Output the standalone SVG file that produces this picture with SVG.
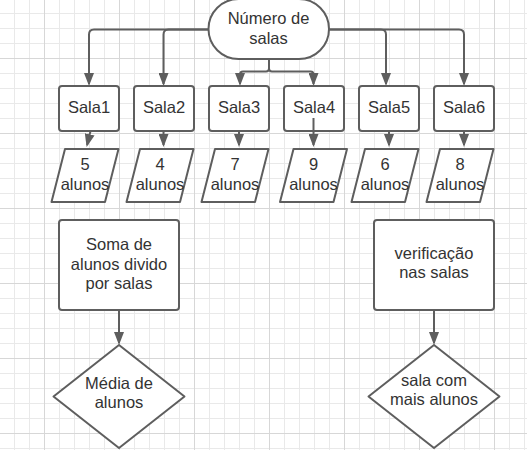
<svg xmlns="http://www.w3.org/2000/svg" width="527" height="450" viewBox="0 0 527 450">
<style>
.shape{fill:#ffffff;stroke:#5e5e5e;stroke-width:2;stroke-linejoin:round}
.lbl{font-family:"Liberation Sans",Arial,sans-serif;font-size:16.5px;fill:#333333;text-anchor:middle}
.conn{fill:none;stroke:#5e5e5e;stroke-width:2}
</style>
<defs>
<pattern id="grid" patternUnits="userSpaceOnUse" x="14" y="13" width="75" height="75">
<path d="M0.5,0V75M15.5,0V75M45.5,0V75M60.5,0V75M0,0.5H75M0,15.5H75M0,30.5H75M0,60.5H75" stroke="#e9e9e9" stroke-width="1" fill="none"/>
<path d="M30.5,0V75M0,45.5H75" stroke="#d7d7d7" stroke-width="1" fill="none"/>
</pattern>
<marker id="arr" viewBox="0 0 13 10" refX="11" refY="5" markerWidth="13" markerHeight="10" markerUnits="userSpaceOnUse" orient="auto">
<path d="M0,0L13,5L0,10z" fill="#5e5e5e"/>
</marker>
</defs>
<rect width="527" height="450" fill="#ffffff"/>
<rect width="527" height="450" fill="url(#grid)"/>

<g id="numero-salas">
<rect class="shape" x="208.5" y="-1" width="120.5" height="60" rx="30"/>
<text class="lbl" x="268.5" y="24">Número de</text>
<text class="lbl" x="268.5" y="43.5">salas</text>
</g>

<g id="sala1"><rect class="shape" x="59" y="86" width="60" height="45" rx="3"/><text class="lbl" x="89" y="113">Sala1</text></g>
<g id="sala2"><rect class="shape" x="134" y="86" width="60" height="45" rx="3"/><text class="lbl" x="164" y="113">Sala2</text></g>
<g id="sala3"><rect class="shape" x="209" y="86" width="60" height="45" rx="3"/><text class="lbl" x="239" y="113">Sala3</text></g>
<g id="sala4"><rect class="shape" x="284" y="86" width="60" height="45" rx="3"/><text class="lbl" x="314" y="113">Sala4</text></g>
<g id="sala5"><rect class="shape" x="359" y="86" width="60" height="45" rx="3"/><text class="lbl" x="389" y="113">Sala5</text></g>
<g id="sala6"><rect class="shape" x="434" y="86" width="60" height="45" rx="3"/><text class="lbl" x="464" y="113">Sala6</text></g>

<g id="dados1"><path class="shape" d="M65,149H118.5L105,202H51.5Z"/><text class="lbl" x="85" y="169.5">5</text><text class="lbl" x="85" y="189.5">alunos</text></g>
<g id="dados2"><path class="shape" d="M140,149H193.5L180,202H126.5Z"/><text class="lbl" x="160" y="169.5">4</text><text class="lbl" x="160" y="189.5">alunos</text></g>
<g id="dados3"><path class="shape" d="M215,149H268.5L255,202H201.5Z"/><text class="lbl" x="235" y="169.5">7</text><text class="lbl" x="235" y="189.5">alunos</text></g>
<g id="dados4"><path class="shape" d="M293.5,149H347L333.5,202H280Z"/><text class="lbl" x="313.5" y="169.5">9</text><text class="lbl" x="313.5" y="189.5">alunos</text></g>
<g id="dados5"><path class="shape" d="M365,149H418.5L405,202H351.5Z"/><text class="lbl" x="385" y="169.5">6</text><text class="lbl" x="385" y="189.5">alunos</text></g>
<g id="dados6"><path class="shape" d="M440,149H493.5L480,202H426.5Z"/><text class="lbl" x="460" y="169.5">8</text><text class="lbl" x="460" y="189.5">alunos</text></g>

<g id="soma">
<rect class="shape" x="59" y="220" width="120" height="90" rx="3"/>
<text class="lbl" x="119" y="250">Soma de</text>
<text class="lbl" x="119" y="269.5">alunos divido</text>
<text class="lbl" x="119" y="289">por salas</text>
</g>
<g id="media">
<path class="shape" d="M119,345L184.5,396.5L119,448L53.5,396.5Z"/>
<text class="lbl" x="119" y="388.5">Média de</text>
<text class="lbl" x="119" y="407.5">alunos</text>
</g>
<g id="verificacao">
<rect class="shape" x="374" y="220" width="120" height="90" rx="3"/>
<text class="lbl" x="434" y="258.5">verificação</text>
<text class="lbl" x="434" y="278">nas salas</text>
</g>
<g id="sala-mais">
<path class="shape" d="M434,345L499.5,396.5L434,448L368.5,396.5Z"/>
<text class="lbl" x="434" y="386">sala com</text>
<text class="lbl" x="434" y="405">mais alunos</text>
</g>

<g id="connectors" class="conn">
<path marker-end="url(#arr)" d="M208.5,29.5H94Q89,29.5 89,34.5V84"/>
<path marker-end="url(#arr)" d="M208.5,29.5H168.5Q163.5,29.5 163.5,34.5V84"/>
<path marker-end="url(#arr)" d="M269,59V68.5Q269,71.5 266,71.5H243Q240,71.5 240,74.5V84"/>
<path marker-end="url(#arr)" d="M269,59V68.5Q269,71.5 272,71.5H310.5Q313.5,71.5 313.5,74.5V84"/>
<path marker-end="url(#arr)" d="M329,29.5H381Q386,29.5 386,34.5V84"/>
<path marker-end="url(#arr)" d="M329,29.5H459Q464,29.5 464,34.5V84"/>
<path marker-end="url(#arr)" d="M90.5,131L87.1,145"/>
<path marker-end="url(#arr)" d="M163.5,131V145"/>
<path marker-end="url(#arr)" d="M239,131V145"/>
<path marker-end="url(#arr)" d="M313.5,118V145"/>
<path marker-end="url(#arr)" d="M389,131V145"/>
<path marker-end="url(#arr)" d="M464,131V145"/>
<path marker-end="url(#arr)" d="M119,310V343"/>
<path marker-end="url(#arr)" d="M434,310V343"/>
</g>
</svg>
